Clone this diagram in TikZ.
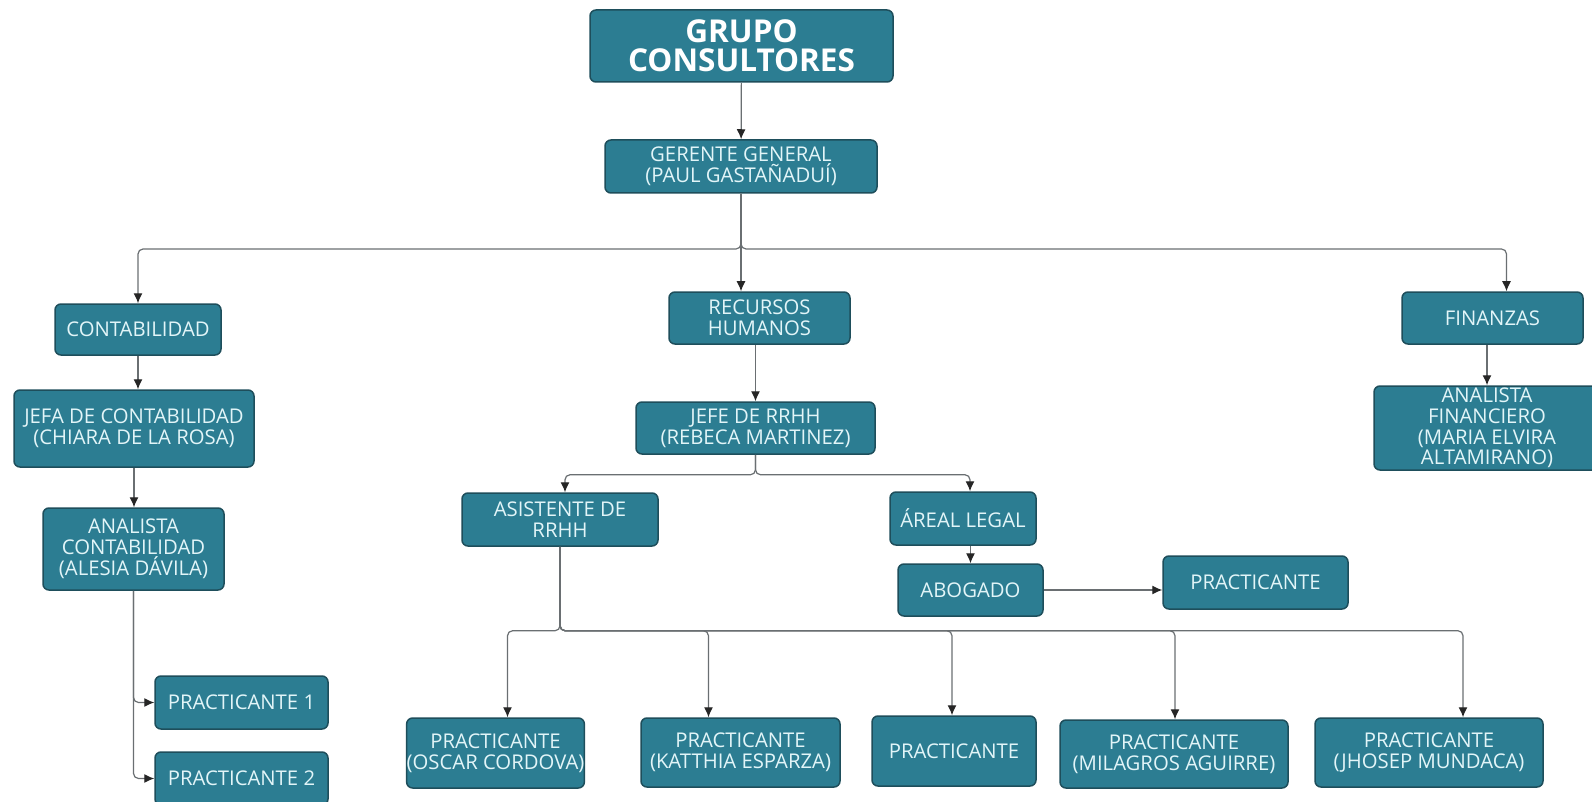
\documentclass[tikz,border=0pt]{standalone}
\usepackage{fontspec}
\setmainfont{Open Sans}
\usetikzlibrary{arrows.meta}
\definecolor{boxfill}{HTML}{2C7D92}
\definecolor{boxline}{HTML}{1E4E5B}
\definecolor{boxtext}{HTML}{E2F5F8}
\definecolor{linegray}{HTML}{6A6F72}
\tikzset{
  box/.style={draw=boxline, fill=boxfill, rounded corners=6pt, line width=1.5pt,
    text=boxtext, align=center, inner sep=0pt, font=\fontsize{20.3}{20.8}\selectfont},
  conn/.style={draw=linegray, line width=1.2pt, rounded corners=5pt,
    -{Latex[length=10pt,width=9pt,color=black!85]}},
}
\begin{document}
\begin{tikzpicture}[x=1pt,y=-1pt]
\useasboundingbox[fill=white] (0,0) rectangle (1592,802);
% top
\node[box, minimum width=303, minimum height=72, text=white,
  font=\fontsize{31.5}{29}\selectfont\bfseries] (grupo) at (741.5,46) {GRUPO\\CONSULTORES};
\node[box, minimum width=272, minimum height=53] (gerente) at (741,166.5) {GERENTE GENERAL\\(PAUL GASTAÑADUÍ)};
\coordinate (bus1) at (0,249);
% areas
\node[box, minimum width=166, minimum height=51] (conta) at (138,329.5) {CONTABILIDAD};
\node[box, minimum width=181, minimum height=52] (rrhh) at (759.5,318) {RECURSOS\\HUMANOS};
\node[box, minimum width=181, minimum height=52] (finanzas) at (1492.5,318) {FINANZAS};
% contabilidad
\node[box, minimum width=240, minimum height=77] (jefacont) at (134,428.5) {JEFA DE CONTABILIDAD\\(CHIARA DE LA ROSA)};
\node[box, minimum width=181, minimum height=82] (analcont) at (133.5,549) {ANALISTA\\CONTABILIDAD\\(ALESIA DÁVILA)};
\node[box, minimum width=173, minimum height=53] (pract1) at (241.5,702.5) {PRACTICANTE 1};
\node[box, minimum width=173, minimum height=53] (pract2) at (241.5,778.5) {PRACTICANTE 2};
% rrhh
\node[box, minimum width=239, minimum height=52] (jeferrhh) at (755.5,428) {JEFE DE RRHH\\(REBECA MARTINEZ)};
\node[box, minimum width=196, minimum height=53] (asis) at (560,519.5) {ASISTENTE DE\\RRHH};
\node[box, minimum width=146, minimum height=53] (legal) at (963,518.5) {ÁREAL LEGAL};
\node[box, minimum width=145, minimum height=52] (abogado) at (970.5,590) {ABOGADO};
\node[box, minimum width=185, minimum height=53] (prlegal) at (1255.5,582.5) {PRACTICANTE};
\node[box, minimum width=175, minimum height=70] (oscar) at (495.5,753) {PRACTICANTE\\(OSCAR CORDOVA)};
\node[box, minimum width=199, minimum height=69] (katthia) at (740.5,752.5) {PRACTICANTE\\(KATTHIA ESPARZA)};
\node[box, minimum width=164, minimum height=70] (prmid) at (954,751) {PRACTICANTE};
\node[box, minimum width=228, minimum height=68] (milagros) at (1174,754) {PRACTICANTE\\(MILAGROS AGUIRRE)};
\node[box, minimum width=228, minimum height=69] (jhosep) at (1429,752.5) {PRACTICANTE\\(JHOSEP MUNDACA)};
% finanzas
\node[box, minimum width=226, minimum height=84] (analfin) at (1487,428) {ANALISTA\\FINANCIERO\\(MARIA ELVIRA\\ALTAMIRANO)};
% connectors
\draw[conn] (grupo) -- (gerente);
\draw[conn] (gerente.south) -- (gerente.south |- bus1) -| (conta.north);
\draw[conn] (gerente.south) -- (gerente.south |- rrhh.north);
\draw[conn] (gerente.south) -- (gerente.south |- bus1) -| ([xshift=14]finanzas.north);
\draw[conn] (conta.south) -- (conta.south |- jefacont.north);
\draw[conn] (jefacont.south) -- (jefacont.south |- analcont.north);
\draw[conn] (analcont.south) |- (pract1.west);
\draw[conn] (analcont.south) |- (pract2.west);
\draw[conn] (rrhh.south -| jeferrhh.north) -- (jeferrhh.north);
\draw[conn] (jeferrhh.south) -- ++(0,20) -| ([xshift=5]asis.north);
\draw[conn] (jeferrhh.south) -- ++(0,20) -| ([xshift=7]legal.north);
\draw[conn] (legal.south -| abogado.north) -- (abogado.north);
\draw[conn] (abogado.east) -- (abogado.east -| prlegal.west);
\foreach \p/\dx in {oscar/12,katthia/-32,prmid/-2,milagros/1,jhosep/34}
  \draw[conn] (asis.south) -- ++(0,84) -| ([xshift=\dx]\p.north);
\draw[conn] (finanzas.south -| analfin.north) -- (analfin.north);
\end{tikzpicture}
\end{document}
